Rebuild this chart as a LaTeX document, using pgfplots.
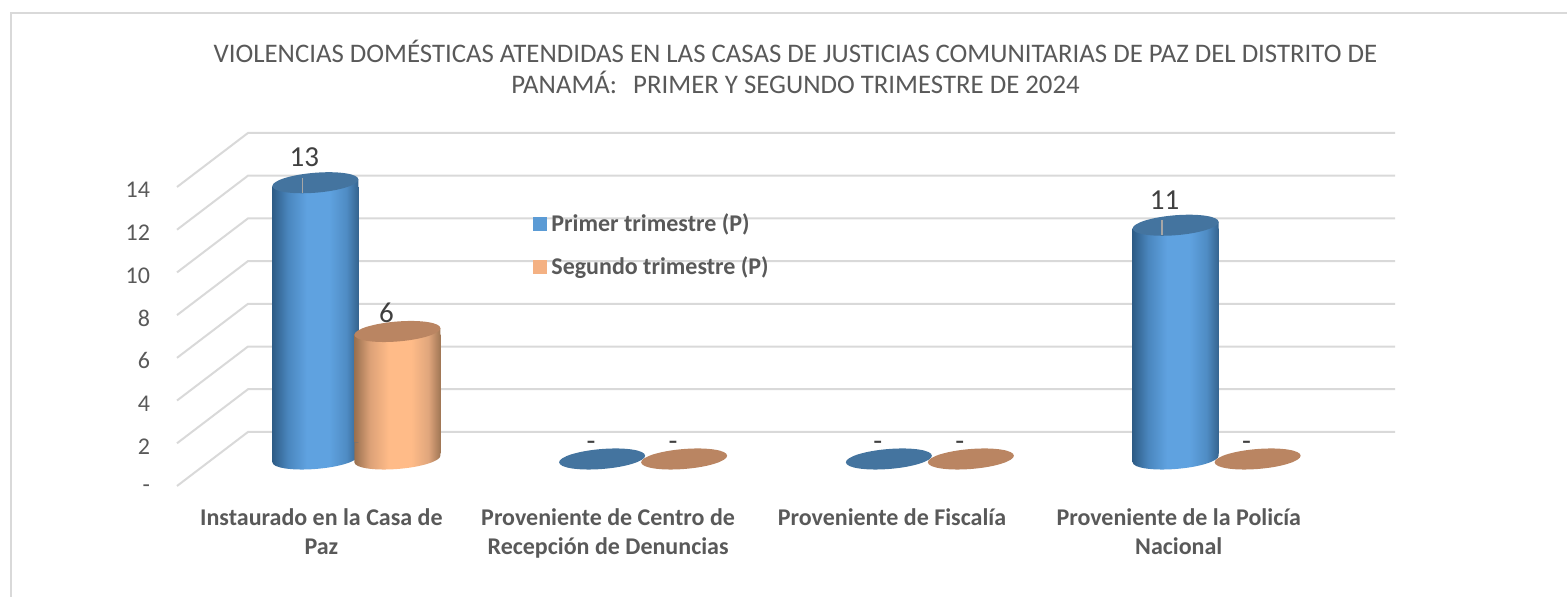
\documentclass[border=0pt]{standalone}
\usepackage{pgfplots}
\usepackage{fontspec}
\setmainfont{Carlito}
\pgfplotsset{compat=1.18}
\newlength{\px}
\setlength{\px}{0.5pt}

\definecolor{txt}{HTML}{595959}
\definecolor{lab}{HTML}{404040}
\definecolor{wall}{HTML}{D9D9D9}
\definecolor{leader}{HTML}{A6A6A6}
\definecolor{topblue}{HTML}{44749F}
\definecolor{toporange}{HTML}{BA8562}
\definecolor{legblue}{HTML}{5B9BD5}
\definecolor{legorange}{HTML}{F4B183}
\definecolor{ba}{HTML}{2E5C86}
\definecolor{bb}{HTML}{4A86BE}
\definecolor{bc}{HTML}{5FA2E0}
\definecolor{bd}{HTML}{4F8CC4}
\definecolor{be}{HTML}{35648F}
\definecolor{oa}{HTML}{99704F}
\definecolor{ob}{HTML}{DCA177}
\definecolor{oc}{HTML}{FFBB88}
\definecolor{od}{HTML}{E0A67C}
\definecolor{oe}{HTML}{A07655}

\pgfdeclarehorizontalshading{cylblue}{100bp}{
  color(0bp)=(ba); color(25bp)=(ba); color(34bp)=(bb);
  color(45bp)=(bc); color(58bp)=(bc); color(68bp)=(bd); color(75bp)=(be); color(100bp)=(be)}
\pgfdeclarehorizontalshading{cylorange}{100bp}{
  color(0bp)=(oa); color(25bp)=(oa); color(34bp)=(ob);
  color(45bp)=(oc); color(58bp)=(oc); color(68bp)=(od); color(75bp)=(oe); color(100bp)=(oe)}

% ellipse of a lid or foot, skewed a little; its centre sits 3.3 px above the data point
\def\cylellipse{\pgfpathellipse{\pgfqpoint{0pt}{3.3\px}}{\pgfqpoint{43\px}{3.3\px}}{\pgfqpoint{0pt}{10\px}}}
\pgfdeclareplotmark{lid}{\cylellipse\pgfusepathqfill}
% foot: ellipse plus the body part up to where the bar starts
\def\cylfoot#1{%
  \cylellipse
  \pgfpathmoveto{\pgfqpoint{-43\px}{0pt}}%
  \pgfpathlineto{\pgfqpoint{43\px}{6.6\px}}%
  \pgfpathlineto{\pgfqpoint{43\px}{20\px}}%
  \pgfpathlineto{\pgfqpoint{-43\px}{20\px}}%
  \pgfpathclose
  \pgfshadepath{#1}{0}\pgfusepath{discard}}
\pgfdeclareplotmark{footblue}{\cylfoot{cylblue}}
\pgfdeclareplotmark{footorange}{\cylfoot{cylorange}}
% collar: fills the wedge between the flat bar top and the tilted lid
\def\cylcollar#1{%
  \pgfpathmoveto{\pgfqpoint{-43\px}{0pt}}%
  \pgfpathlineto{\pgfqpoint{43\px}{0pt}}%
  \pgfpathlineto{\pgfqpoint{43\px}{6.6\px}}%
  \pgfpathclose
  \pgfshadepath{#1}{0}\pgfusepath{discard}}
\pgfdeclareplotmark{collarblue}{\cylcollar{cylblue}}
\pgfdeclareplotmark{collarorange}{\cylcollar{cylorange}}
% marks go on top of all plot paths, so the leader lines have to be marks too
\pgfdeclareplotmark{leaderline}{%
  \pgfpathmoveto{\pgfqpoint{0pt}{7.5\px}}%
  \pgfpathlineto{\pgfqpoint{0pt}{-7.5\px}}%
  \pgfusepathqstroke}

\pgfplotsset{
  lbl/.style={nodes near coords,point meta=explicit symbolic,
    nodes near coords style={font=\fontsize{14.5pt}{16pt}\selectfont,text=lab,anchor=base,xshift=-11\px,yshift=#1,inner sep=0pt}},
  barblue/.style={ybar,bar width=86\px,bar shift=-41\px,draw=none,shading=cylblue,forget plot},
  barorange/.style={ybar,bar width=86\px,bar shift=41\px,draw=none,shading=cylorange,forget plot},
}

\begin{document}
\begin{tikzpicture}
\useasboundingbox (0,0) rectangle (1567\px,597\px);
\draw[wall,line width=2\px] (11\px,-5\px) -- (11\px,584\px) -- (1572\px,584\px);

% walls: front edge at x=177, back wall 71 px right and 54 px up
\begin{axis}[
  at={(177\px,111\px)},anchor=south west,scale only axis,
  width=1218\px,height=299\px,
  xmin=177,xmax=1395,ymin=0,ymax=14,clip=false,
  axis lines=none,
]
\pgfplotsinvokeforeach{0,2,...,14}{
  \addplot[wall,line width=2\px,forget plot] coordinates {(177,#1) (248,#1+2.53) (1395,#1+2.53)};
}
\end{axis}

% value labels
\begin{axis}[
  at={(177\px,111\px)},anchor=south west,scale only axis,
  width=1\px,height=299\px,
  xmin=0,xmax=1,ymin=0,ymax=14,
  axis x line=none,
  axis y line=left,
  y axis line style={draw=none},
  major tick length=0pt,
  ytick={0,2,...,14},
  yticklabels={-,2,4,6,8,10,12,14},
  yticklabel style={font=\fontsize{12pt}{14pt}\selectfont,text=txt,xshift=-20\px,yshift=-3\px},
]
\end{axis}

% cylinders: value 0 is 462.3 px down the picture, 21.25 px per unit; bars start at ymin
\begin{axis}[
  at={(213\px,143.2\px)},anchor=south west,scale only axis,
  width=1147\px,height=289\px,
  xmin=-0.5,xmax=3.5,ymin=0.4,ymax=14,clip=false,
  axis x line*=bottom,axis y line=none,
  x axis line style={draw=none},
  major tick length=0pt,
  xtick={0,1,1.99,2.99},
  xticklabels={{Instaurado en la Casa de\\Paz},{Proveniente de Centro de\\Recepción de Denuncias},{Proveniente de Fiscalía},{Proveniente de la Policía\\Nacional}},
  xticklabel style={font=\bfseries\fontsize{12pt}{14.7pt}\selectfont,text=txt,align=center,anchor=north,xshift=-35\px,yshift=-47.5\px},
  legend style={at={(0.279,0.845)},anchor=north west,draw=none,fill=none,
    font=\bfseries\fontsize{12pt}{13pt}\selectfont,text=txt,
    row sep=14\px,inner sep=0pt,
    /tikz/every even column/.append style={column sep=4\px}},
  legend cell align=left,
  title={VIOLENCIAS DOMÉSTICAS ATENDIDAS EN LAS CASAS DE JUSTICIAS COMUNITARIAS DE PAZ DEL DISTRITO DE\\PANAMÁ:\hspace{0.6em}PRIMER Y SEGUNDO TRIMESTRE DE 2024},
  title style={font=\fontsize{13.4pt}{15.5pt}\selectfont,text=txt,align=center,at={(0.5,1)},anchor=south,xshift=9\px,yshift=52\px},
]
\addlegendimage{legend image code/.code={\path[draw=none,fill=legblue] (0pt,-3.5pt) -- (7pt,-3.5pt) -- (7pt,3.5pt) -- (0pt,3.5pt) -- cycle;}}
\addlegendentry{Primer trimestre (P)}
\addlegendimage{legend image code/.code={\path[draw=none,fill=legorange] (0pt,-3.5pt) -- (7pt,-3.5pt) -- (7pt,3.5pt) -- (0pt,3.5pt) -- cycle;}}
\addlegendentry{Segundo trimestre (P)}
% blue
\addplot[only marks,mark=footblue,forget plot] coordinates {(-0.143,0) (2.857,0)};
\addplot[barblue] coordinates {(0,13)};
\addplot[barblue] coordinates {(3,11)};
\addplot[only marks,mark=collarblue,forget plot] coordinates {(-0.143,13) (2.857,11)};
% orange
\addplot[only marks,mark=footorange,forget plot] coordinates {(0.143,0)};
\addplot[barorange] coordinates {(0,6)};
\addplot[only marks,mark=collarorange,forget plot] coordinates {(0.143,6)};
% lids
\addplot[only marks,mark=lid,color=topblue,forget plot,lbl=19.5\px] coordinates {(-0.143,13)[13] (2.857,11)[11]};
\addplot[only marks,mark=lid,color=topblue,forget plot,lbl=12\px] coordinates {(0.857,0)[-] (1.857,0)[-]};
\addplot[only marks,mark=lid,color=toporange,forget plot,lbl=12\px] coordinates {(0.143,6)[6] (1.143,0)[-] (2.143,0)[-] (3.143,0)[-]};
% leader lines of the two tall labels
\addplot[only marks,mark=leaderline,mark options={draw=leader,line width=1.6\px},forget plot] coordinates {(-0.188,13.02) (2.81,11.04)};
\end{axis}
\end{tikzpicture}
\end{document}
